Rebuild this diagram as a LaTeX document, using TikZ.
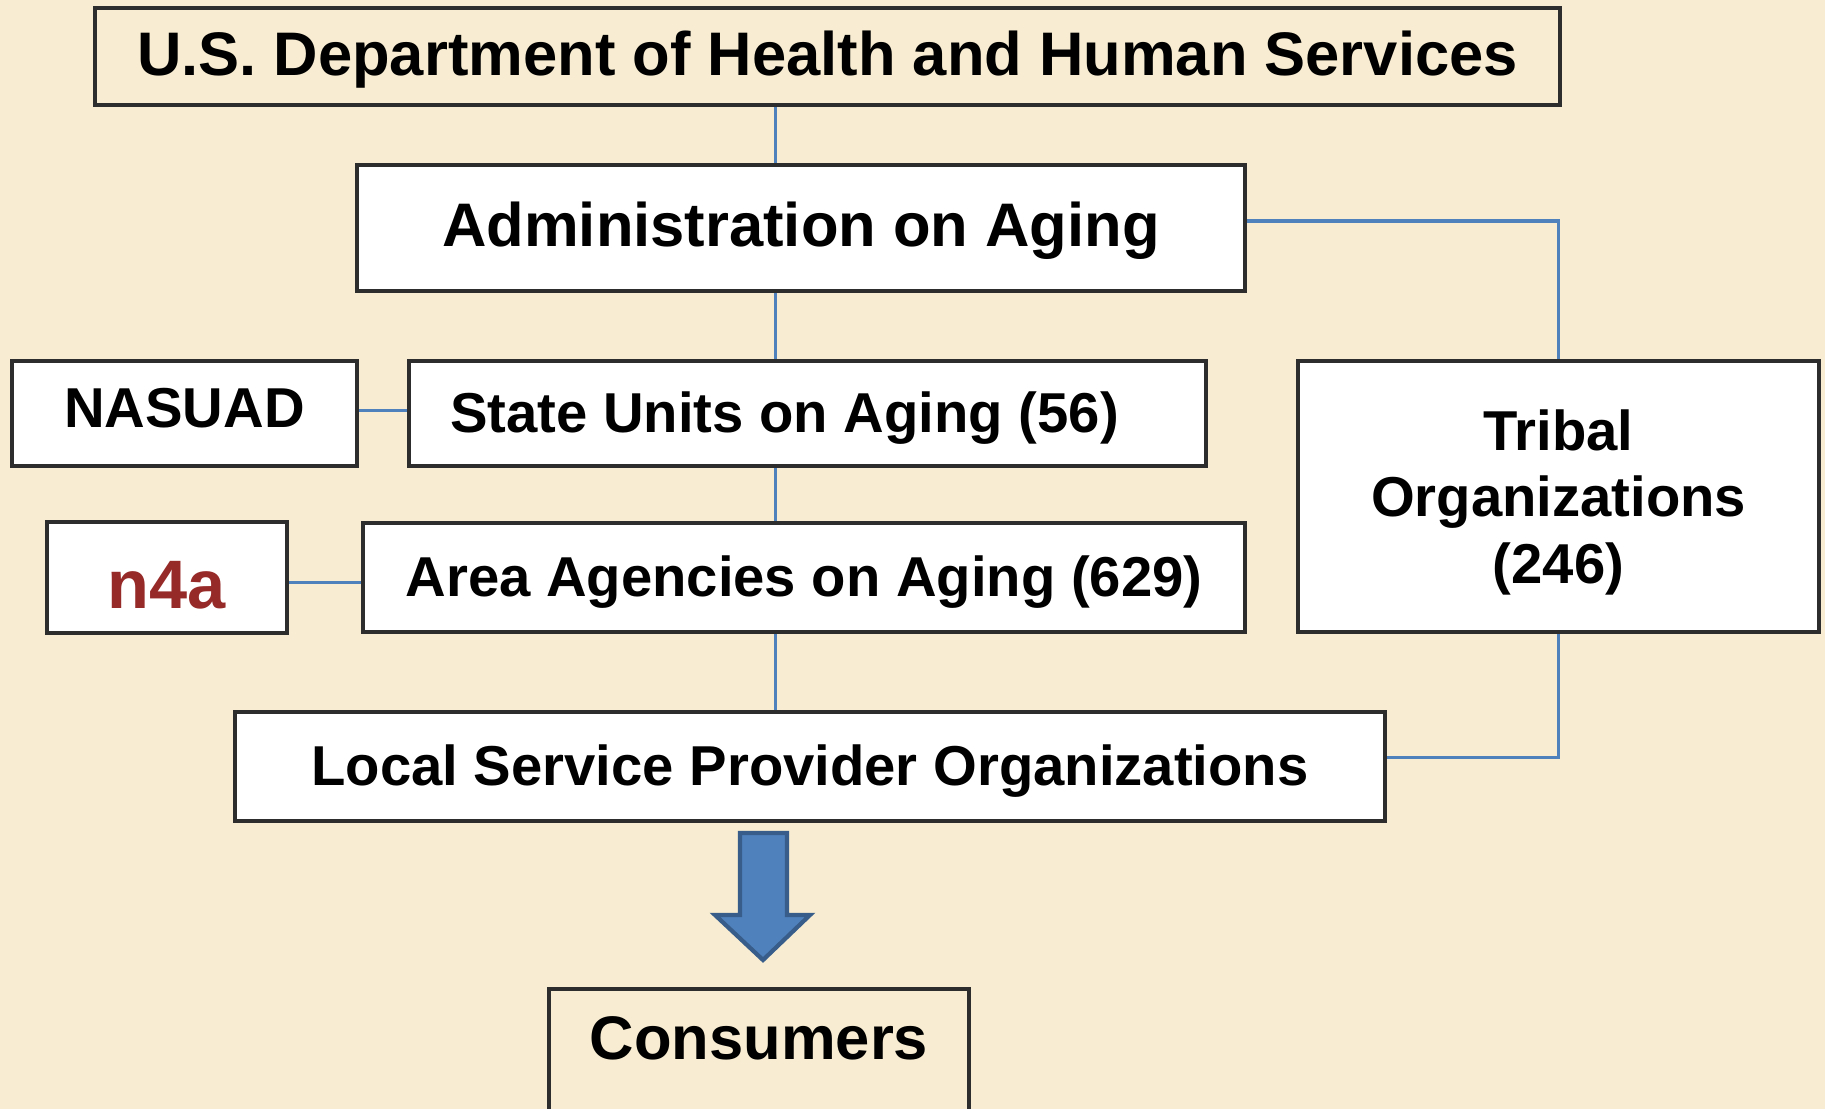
\documentclass[tikz,border=0pt]{standalone}
\usepackage{fontspec}
\setmainfont{Liberation Sans}
\usepackage{tikz}
\usetikzlibrary{positioning,calc}
\definecolor{parch}{RGB}{248,237,210}
\definecolor{linkblue}{RGB}{79,129,189}
\definecolor{arrowedge}{RGB}{56,93,138}
\definecolor{boxedge}{RGB}{45,45,45}
\definecolor{nfourared}{RGB}{150,42,40}

\begin{document}
\begin{tikzpicture}[
  box/.style={draw=boxedge, line width=1.2pt, fill=white, inner sep=0pt,
              font=\fontsize{16}{19}\selectfont\bfseries, align=center,
              text height=12pt, text depth=1pt},
  bigbox/.style={box, font=\fontsize{17.5}{21}\selectfont\bfseries,
                 text height=12.8pt, text depth=2pt},
  tallbox/.style={draw=boxedge, line width=1.2pt, fill=white, inner sep=0pt,
                  font=\fontsize{16}{19}\selectfont\bfseries, align=center},
  link/.style={draw=linkblue, line width=0.9pt}
]
\fill[parch] (0,0) rectangle (18.25,11.09);
\useasboundingbox (0,0) rectangle (18.25,11.09);

\node[bigbox, fill=none, minimum width=14.65cm, minimum height=0.97cm] (hhs) at (8.275,10.525)
  {U.S. Department of Health and Human Services};
\node[bigbox, minimum width=8.88cm, minimum height=1.26cm] (aoa) at (8.01,8.81)
  {Administration on Aging};
\node[box, minimum width=3.45cm, minimum height=1.05cm, text height=11.5pt, text depth=3.7pt] (nasuad) at (1.845,6.955)
  {NASUAD};
\node[box, minimum width=7.97cm, minimum height=1.05cm] (state) at (8.075,6.955)
  {State Units on Aging (56)\kern0.46cm};
\node[box, minimum width=2.40cm, minimum height=1.11cm, text=nfourared,
      font=\fontsize{19.5}{23}\selectfont\bfseries, text height=17.6pt, text depth=0pt] (nfoura) at (1.67,5.315) {n4a};
\node[box, minimum width=8.82cm, minimum height=1.09cm] (area) at (8.04,5.315)
  {Area Agencies on Aging (629)};
\node[tallbox, minimum width=5.21cm, minimum height=2.71cm, text depth=0pt] (tribal) at (15.585,6.125)
  {Tribal\\Organizations\\(246)};
\node[box, minimum width=11.5cm, minimum height=1.09cm] (local) at (8.10,3.425)
  {Local Service Provider Organizations};
\node[bigbox, fill=none, minimum width=4.2cm, minimum height=1.36cm, text height=12.5pt, text depth=0.38cm] (cons) at (7.59,0.52)
  {Consumers};

\coordinate (spine) at (7.755,5);

\draw[link] (hhs.south -| spine) -- (aoa.north -| spine);
\draw[link] (aoa.south -| spine) -- (state.north -| spine);
\draw[link] (state.south -| spine) -- (area.north -| spine);
\draw[link] (area.south -| spine) -- (local.north -| spine);
\draw[link] ([yshift=0.07cm]aoa.east) -| (tribal.north);
\draw[link] (tribal.south) |- ([yshift=0.09cm]local.east);
\draw[link] ([yshift=0.03cm]nasuad.east) -- ([yshift=0.03cm]state.west);
\draw[link] ([yshift=-0.05cm]nfoura.east) -- ([yshift=-0.05cm]area.west);

\draw[draw=arrowedge, fill=linkblue, line width=1.2pt, line join=miter]
  (7.40,2.76) -- (7.87,2.76) -- (7.87,1.94) -- (8.10,1.94) -- (7.63,1.49)
  -- (7.15,1.94) -- (7.40,1.94) -- cycle;
\end{tikzpicture}
\end{document}
